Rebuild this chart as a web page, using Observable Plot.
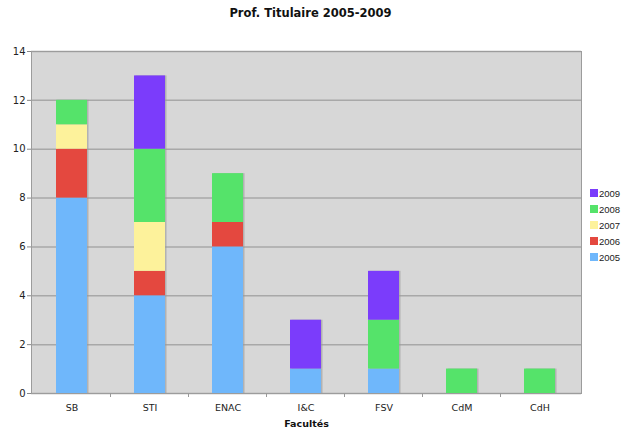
<!DOCTYPE html>
<html>
<head>
<meta charset="utf-8">
<script src="https://cdn.jsdelivr.net/npm/d3@7"></script>
<script src="https://cdn.jsdelivr.net/npm/@observablehq/plot@0.6"></script>
<style>
  body { margin:0; background:#fff; font-family:"DejaVu Sans", sans-serif; }
  #wrap { position:relative; width:621px; height:430px; }
  #title { position:absolute; top:6px; left:0; width:621px; text-align:center; font-weight:bold; font-size:11.5px; color:#111; }
  #chart { position:absolute; top:30px; left:0; }
  #legend { position:absolute; left:590px; top:185px; font-size:9.5px; font-family:"Liberation Sans", sans-serif; color:#222; }
  #legend div { height:16px; display:flex; align-items:center; white-space:nowrap; }
  #legend span.sw { display:inline-block; width:8px; height:8px; margin-right:1px; }
  [aria-label="x-axis label"] text { font-weight:bold; fill:#111; }
</style>
</head>
<body>
<div id="wrap">
  <div id="title">Prof. Titulaire 2005-2009</div>
  <div id="chart"></div>
  <div id="legend"></div>
</div>
<script>
const facultes = ["SB", "STI", "ENAC", "I&C", "FSV", "CdM", "CdH"];
const years = ["2005", "2006", "2007", "2008", "2009"];
const colors = ["#6fb7fb", "#e4483f", "#fdf29b", "#55e36a", "#7b3cfb"];
const v2005 = [8, 4, 6, 1, 1, 0, 0];
const v2006 = [2, 1, 1, 0, 0, 0, 0];
const v2007 = [1, 2, 0, 0, 0, 0, 0];
const v2008 = [1, 3, 2, 0, 2, 1, 1];
const v2009 = [0, 3, 0, 2, 2, 0, 0];
const yTicks = [0, 2, 4, 6, 8, 10, 12, 14];

const series = [v2005, v2006, v2007, v2008, v2009];
const rows = [];
years.forEach((yr, i) => facultes.forEach((f, j) => rows.push({faculte: f, year: yr, value: series[i][j]})));

const W = 621, H = 400, mL = 31, mR = 40, mT = 21, mB = 37;

const plot = Plot.plot({
  width: W, height: H,
  marginLeft: mL, marginRight: mR, marginTop: mT, marginBottom: mB,
  style: {fontFamily: "DejaVu Sans, sans-serif", fontSize: "9.5px", color: "#222", background: "transparent"},
  x: {domain: facultes, paddingInner: 0.6, paddingOuter: 0.3, align: 0.5},
  y: {domain: [0, 14]},
  color: {domain: years, range: colors},
  marks: [
    Plot.frame({fill: "#d7d7d7", stroke: "none"}),
    Plot.gridY(yTicks, {stroke: "#a8a8a8", strokeOpacity: 1, strokeWidth: 1.5}),
    Plot.barY(rows, Plot.stackY({order: years}, {x: "faculte", y: "value", z: "year", fill: "#999", fillOpacity: 0.6, dx: 1.5})),
    Plot.barY(rows, Plot.stackY({order: years}, {x: "faculte", y: "value", z: "year", fill: "year"})),
    Plot.frame({stroke: "#9c9c9c", strokeWidth: 1, fill: "none"}),
    Plot.axisY(yTicks, {tickSize: 4, tickPadding: 2, label: null, stroke: "#888", tickFormat: d => d, fontSize: "10px"}),
    Plot.axisX({tickSize: 0, tickPadding: 11, label: "Facultés", labelAnchor: "center", labelArrow: "none", labelOffset: 33, fontSize: "9.5px"})
  ]
});

// boundary ticks below the x axis between categories
const xs = plot.scale("x");
const step = xs.step;
const g = d3.select(plot).append("g").attr("stroke", "#999");
for (let i = 1; i < facultes.length; i++) {
  const px = xs.apply(facultes[i]) - (step - xs.bandwidth) / 2;
  g.append("line").attr("x1", px).attr("x2", px).attr("y1", H - mB).attr("y2", H - mB + 4);
}
document.getElementById("chart").appendChild(plot);

const legend = document.getElementById("legend");
for (let i = years.length - 1; i >= 0; i--) {
  const d = document.createElement("div");
  d.innerHTML = `<span class="sw" style="background:${colors[i]}"></span>${years[i]}`;
  legend.appendChild(d);
}
</script>
</body>
</html>
